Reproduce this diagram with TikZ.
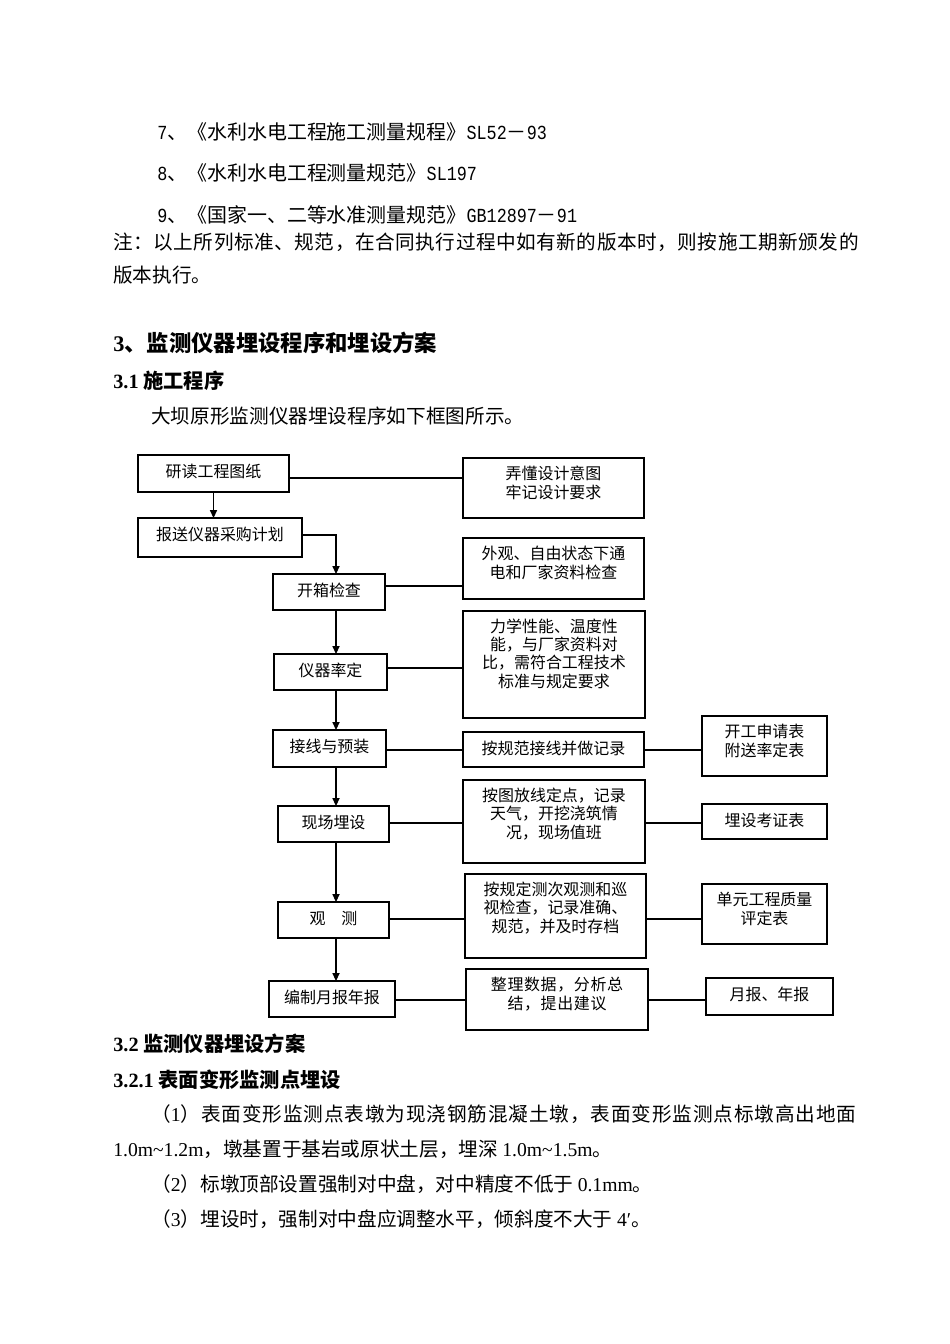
\documentclass[tikz,border=0pt]{standalone}
\usepackage{fontspec}
\usepackage{tikz}
\usetikzlibrary{arrows.meta}
\setmainfont{Noto Sans CJK SC}
\newfontfamily\tnr{Liberation Serif}
\newfontfamily\mono[FakeStretch=0.84]{Liberation Mono}
\newdimen\pu
\pu=0.6266pt
\newcommand{\boxfont}{\fontsize{10pt}{11.3pt}\selectfont}
\newcommand{\bodyfont}{\fontsize{12.3pt}{15pt}\selectfont}
\newcommand{\reffont}{\fontsize{12.5pt}{15pt}\selectfont}
\newcommand{\spaced}[2]{{\addfontfeatures{LetterSpace=#1}#2}}
\tikzset{
    procbox/.style n args={3}{draw,line width=0.8pt,inner sep=0pt,outer sep=0pt,anchor=north west,
      minimum width=#1\pu,text height=#2\pu,text depth=#3\pu,align=center,font=\boxfont},
    link/.style={line width=0.7pt},
    flow/.style={-{Triangle[length=5pt,width=4.5pt]},line width=0.7pt},
    body/.style={anchor=base west,inner sep=0pt,font=\bodyfont},
    head/.style={anchor=base west,inner sep=0pt,font=\fontsize{12.7pt}{15pt}\selectfont\bfseries},
}
\begin{document}
\begin{tikzpicture}[x=0.6266pt,y=-0.6266pt]
  \useasboundingbox (0,0) rectangle (950,1344);
  % text above the chart
  \node[body,font=\reffont] (ref7) at (157,139) {{\mono 7}、《水利水电工程施工测量规程》{\mono SL52}－{\mono 93}};
  \node[body,font=\reffont] (ref8) at (157,180) {{\mono 8}、《水利水电工程测量规范》{\mono SL197}};
  \node[body,font=\reffont] (ref9) at (157,222) {{\mono 9}、《国家一、二等水准测量规范》{\mono GB12897}－{\mono 91}};
  \node[body] (note) at (113,249) {\spaced{2.7}{注：以上所列标准、规范，在合同执行过程中如有新的版本时，则按施工期新颁发的}};
  \node[body] (notecont) at (113,282) {版本执行。};
  \node[head,font=\fontsize{14pt}{16pt}\selectfont\bfseries] (sec3) at (113,351) {{\tnr 3}、监测仪器埋设程序和埋设方案};
  \node[head] (sec31) at (113,388) {{\tnr 3.1} 施工程序};
  \node[body] (intro) at (151,423) {大坝原形监测仪器埋设程序如下框图所示。};
  % main column
  \node[procbox={151}{22}{15}] (yandu) at (138,455) {研读工程图纸};
  \node[procbox={164}{22}{17}] (baosong) at (138,518) {报送仪器采购计划};
  \node[procbox={112}{22}{14}] (kaixiang) at (273,574) {开箱检查};
  \node[procbox={113}{22}{14}] (yiqi) at (274,654) {仪器率定};
  \node[procbox={113}{22}{15}] (jiexian) at (273,730) {接线与预装};
  \node[procbox={111}{22}{14}] (xianchang) at (278,806) {现场埋设};
  \node[procbox={111}{22}{14}] (guance) at (278,902) {观\hspace{1em}测};
  \node[procbox={126}{22}{14}] (bianzhi) at (269,981) {编制月报年报};
  % middle column
  \node[procbox={181}{40}{20}] (nongdong) at (463,458) {弄懂设计意图\\牢记设计要求};
  \node[procbox={181}{40}{21}] (waiguan) at (463,538) {外观、自由状态下通\\电和厂家资料检查};
  \node[procbox={182}{76}{31}] (lixue) at (463,611) {力学性能、温度性\\能，与厂家资料对\\比，需符合工程技术\\标准与规定要求};
  \node[procbox={181}{22}{13}] (anguifan) at (463,732) {按规范接线并做记录};
  \node[procbox={182}{58}{25}] (antu) at (463,780) {按图放线定点，记录\\天气，开挖浇筑情\\况，现场值班};
  \node[procbox={181}{58}{26}] (anguiding) at (465,874) {按规定测次观测和巡\\视检查，记录准确、\\规范，并及时存档};
  \node[procbox={182}{40}{21}] (zhengli) at (466,969) {\spaced{4}{整理数据，分析总}\\\spaced{4}{结，提出建议}};
  % right column
  \node[procbox={125}{40}{20}] (kaigong) at (702,716) {开工申请表\\附送率定表};
  \node[procbox={125}{22}{13}] (maishe) at (702,804) {埋设考证表};
  \node[procbox={125}{40}{20}] (danyuan) at (702,884) {单元工程质量\\评定表};
  \node[procbox={127}{22}{15}] (yuebao) at (706,978) {月报、年报};
  % rows and spine of the connectors
  \coordinate (spine) at (336,0);
  \coordinate (r0) at (0,535);
  \coordinate (r1) at (0,478);
  \coordinate (r2) at (0,586);
  \coordinate (r3) at (0,668);
  \coordinate (r4) at (0,750);
  \coordinate (r5) at (0,823);
  \coordinate (r6) at (0,919);
  \coordinate (r7) at (0,1000);
  % Draw arrows of the main column
  \draw[flow] (yandu.south) -- (yandu.south |- baosong.north);
  \draw[flow] (baosong.east |- r0) -| (kaixiang.north -| spine);
  \draw[flow] (kaixiang.south -| spine) -- (yiqi.north -| spine);
  \draw[flow] (yiqi.south -| spine) -- (jiexian.north -| spine);
  \draw[flow] (jiexian.south -| spine) -- (xianchang.north -| spine);
  \draw[flow] (xianchang.south -| spine) -- (guance.north -| spine);
  \draw[flow] (guance.south -| spine) -- (bianzhi.north -| spine);
  % Draw side links
  \draw[link] (yandu.east |- r1) -- (nongdong.west |- r1);
  \draw[link] (kaixiang.east |- r2) -- (waiguan.west |- r2);
  \draw[link] (yiqi.east |- r3) -- (lixue.west |- r3);
  \draw[link] (jiexian.east |- r4) -- (anguifan.west |- r4);
  \draw[link] (anguifan.east |- r4) -- (kaigong.west |- r4);
  \draw[link] (xianchang.east |- r5) -- (antu.west |- r5);
  \draw[link] (antu.east |- r5) -- (maishe.west |- r5);
  \draw[link] (guance.east |- r6) -- (anguiding.west |- r6);
  \draw[link] (anguiding.east |- r6) -- (danyuan.west |- r6);
  \draw[link] (bianzhi.east |- r7) -- (zhengli.west |- r7);
  \draw[link] (zhengli.east |- r7) -- (yuebao.west |- r7);
  % text below the chart
  \node[head] (sec32) at (113,1051) {{\tnr 3.2} 监测仪器埋设方案};
  \node[head] (sec321) at (113,1087) {{\tnr 3.2.1} 表面变形监测点埋设};
  \node[body] (item1) at (151,1121) {\spaced{4.4}{（{\tnr 1}）表面变形监测点表墩为现浇钢筋混凝土墩，表面变形监测点标墩高出地面}};
  \node[body] (item1b) at (113,1156) {{\tnr 1.0m\textasciitilde 1.2m}，墩基置于基岩或原状土层，埋深 {\tnr 1.0m\textasciitilde 1.5m}。};
  \node[body] (item2) at (151,1191) {（{\tnr 2}）标墩顶部设置强制对中盘，对中精度不低于 {\tnr 0.1mm}。};
  \node[body] (item3) at (151,1226) {（{\tnr 3}）埋设时，强制对中盘应调整水平，倾斜度不大于 {\tnr 4′}。};
\end{tikzpicture}
\end{document}
